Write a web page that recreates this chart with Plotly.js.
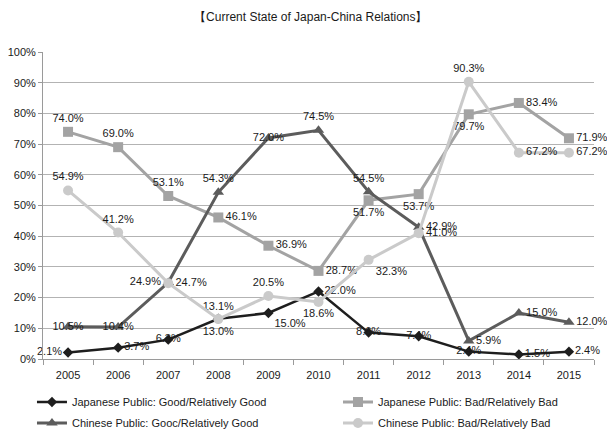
<!DOCTYPE html>
<html>
<head>
<meta charset="utf-8">
<script src="https://cdn.plot.ly/plotly-3.0.1.min.js"></script>
<style>
html,body{margin:0;padding:0;background:#fff;}
#chart{width:607px;height:430px;}
</style>
</head>
<body>
<div id="chart"></div>
<script>
// ---- data ----
const years = ['2005','2006','2007','2008','2009','2010','2011','2012','2013','2014','2015'];
const jpGood = [2.1, 3.7, 6.3, 13.1, 15.0, 22.0, 8.6, 7.4, 2.4, 1.5, 2.4];
const jpBad  = [74.0, 69.0, 53.1, 46.1, 36.9, 28.7, 51.7, 53.7, 79.7, 83.4, 71.9];
const cnGood = [10.5, 10.4, 24.9, 54.3, 72.0, 74.5, 54.5, 42.9, 5.9, 15.0, 12.0];
const cnBad  = [54.9, 41.2, 24.7, 13.0, 20.5, 18.6, 32.3, 41.0, 90.3, 67.2, 67.2];
const names = [
  'Japanese Public: Good/Relatively Good',
  'Japanese Public: Bad/Relatively Bad',
  'Chinese Public: Gooc/Relatively Good',
  'Chinese Public: Bad/Relatively Bad'
];
const titleText = '【Current State of Japan-China Relations】';

// ---- label placement (style only) ----
const MR='middle right', ML='middle left', MC='middle center', TC='top center', BC='bottom center', BR='bottom right';
const jpGoodPos = [ML, MR, MC, TC, BR, MR, MC, MC, MC, MR, MR];
const jpBadPos  = [TC, TC, TC, MR, MR, MR, BC, BC, BC, MR, MR];
const cnGoodPos = [MC, MC, ML, TC, MC, TC, TC, MR, MR, MR, MR];
const cnBadPos  = [TC, TC, MR, BC, TC, BC, BR, MR, TC, MR, MR];

const FONT = 'Liberation Sans, Arial, sans-serif';
const TXT = '#1a1a1a';

function series(y, name, color, width, symbol, msize, pos, legend) {
  return {
    x: years, y: y, name: name, type: 'scatter',
    mode: 'lines+markers+text',
    line: {color: color, width: width},
    marker: {color: color, symbol: symbol, size: msize},
    texttemplate: '%{y:.1f}%',
    textposition: pos,
    textfont: {family: FONT, size: 11, color: TXT},
    legend: legend, legendgroup: name,
    hoverinfo: 'x+y+name', cliponaxis: false
  };
}

const data = [
  series(jpGood, names[0], '#1e1e1e', 2.5, 'diamond', 8, jpGoodPos, 'legend'),
  series(jpBad,  names[1], '#a3a3a3', 3, 'square', 10, jpBadPos, 'legend2'),
  series(cnGood, names[2], '#5c5c5c', 3, 'triangle-up', 10, cnGoodPos, 'legend'),
  series(cnBad,  names[3], '#cacaca', 3, 'circle', 10, cnBadPos, 'legend2')
];

const legendCommon = {
  orientation: 'v', yanchor: 'top', xanchor: 'left',
  font: {family: FONT, size: 11, color: TXT},
  bgcolor: 'rgba(0,0,0,0)', borderwidth: 0, tracegroupgap: 2
};

const layout = {
  width: 607, height: 430,
  margin: {l: 43, r: 13, t: 52, b: 71, autoexpand: false},
  paper_bgcolor: '#fff', plot_bgcolor: '#fff',
  font: {family: FONT, size: 11, color: TXT},
  title: {text: titleText, font: {family: FONT, size: 12, color: TXT},
          x: 0.512, xref: 'container', xanchor: 'center', y: 0.96, yref: 'container', yanchor: 'middle'},
  xaxis: {
    type: 'category', range: [-0.5, 10.5], fixedrange: true,
    showgrid: false, showline: true, linecolor: '#9a9a9a', linewidth: 1,
    ticks: 'outside', tickson: 'boundaries', ticklen: 5, tickcolor: '#9a9a9a',
    tickfont: {family: FONT, size: 11, color: TXT}, ticklabelstandoff: 6
  },
  yaxis: {
    range: [0, 100], dtick: 10, ticksuffix: '%', fixedrange: true,
    showgrid: true, gridcolor: '#b3b3b3', gridwidth: 1,
    showline: true, linecolor: '#9a9a9a', linewidth: 1,
    ticks: 'outside', ticklen: 4, tickcolor: '#9a9a9a',
    tickfont: {family: FONT, size: 11, color: TXT}, zeroline: false
  },
  legend: Object.assign({x: -0.02, y: -0.093}, legendCommon),
  legend2: Object.assign({x: 0.5354, y: -0.093}, legendCommon),
  showlegend: true
};

Plotly.newPlot('chart', data, layout, {displayModeBar: false, staticPlot: true});
</script>
</body>
</html>
